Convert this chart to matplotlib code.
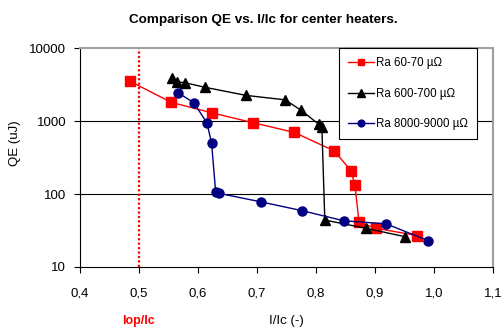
import matplotlib
matplotlib.use("Agg")
import matplotlib.pyplot as plt
from matplotlib.ticker import FixedLocator, FuncFormatter, NullLocator

plt.rcParams['font.family'] = ['Liberation Sans', 'DejaVu Sans']

red_x = [0.485, 0.555, 0.623, 0.693, 0.763, 0.831, 0.859, 0.866, 0.873, 0.901, 0.971]
red_y = [3500, 1800, 1300, 950, 700, 390, 210, 135, 41, 34, 27]

blk_x = [0.556, 0.564, 0.578, 0.612, 0.681, 0.748, 0.775, 0.805, 0.810, 0.815, 0.884, 0.951]
blk_y = [3900, 3450, 3350, 2900, 2250, 1950, 1400, 900, 840, 44, 34, 26]

blu_x = [0.566, 0.593, 0.615, 0.623, 0.630, 0.636, 0.707, 0.777, 0.847, 0.919, 0.990]
blu_y = [2450, 1780, 950, 505, 106, 102, 78, 59, 43, 39, 23]

series_labels = ["Ra 60-70 \u00b5\u03a9", "Ra 600-700 \u00b5\u03a9", "Ra 8000-9000 \u00b5\u03a9"]
x_ticks = [0.4, 0.5, 0.6, 0.7, 0.8, 0.9, 1.0, 1.1]
y_ticks = [10, 100, 1000, 10000]
iop_ic = 0.5

fig = plt.figure(figsize=(5.03, 3.27), dpi=100)
ax = fig.add_axes([0.159, 0.1835, 0.821, 0.6695])

ax.set_yscale('log')
ax.set_xlim(0.4, 1.1)
ax.set_ylim(10, 10000)

for yv in [100, 1000]:
    ax.axhline(yv, color='black', lw=0.8, zorder=1)

ax.axvline(iop_ic, color='red', lw=1.6, ls=(0, (1, 1)), zorder=2)

ax.plot(red_x, red_y, color='red', lw=1, marker='s', ms=6.5, mec='red', mfc='red', label=series_labels[0], zorder=3)
ax.plot(blk_x, blk_y, color='black', lw=1, marker='^', ms=7, mec='black', mfc='black', label=series_labels[1], zorder=4)
ax.plot(blu_x, blu_y, color='#000080', lw=1, marker='o', ms=6.5, mec='#000080', mfc='#000080', label=series_labels[2], zorder=5)

ax.xaxis.set_major_locator(FixedLocator(x_ticks))
ax.xaxis.set_minor_locator(NullLocator())
ax.yaxis.set_major_locator(FixedLocator(y_ticks))
ax.yaxis.set_minor_locator(NullLocator())
ax.xaxis.set_major_formatter(FuncFormatter(lambda v, p: f"{v:.1f}".replace('.', ',')))
ax.yaxis.set_major_formatter(FuncFormatter(lambda v, p: f"{int(round(v))}"))
ax.tick_params(axis='both', labelsize=9.5, direction='out', length=4, width=0.8)
ax.tick_params(axis='y', pad=6)
ax.tick_params(axis='x', pad=11)

for s in ['top', 'right']:
    ax.spines[s].set_color('#a0a0a0')
    ax.spines[s].set_linewidth(1.5)
for s in ['left', 'bottom']:
    ax.spines[s].set_color('black')
    ax.spines[s].set_linewidth(0.8)

ax.set_xlabel("I/Ic (-)", fontsize=9.5)
ax.xaxis.set_label_coords(0.5, -0.247)
ax.xaxis.label.set_va('center')
ax.set_ylabel("QE (uJ)", fontsize=9.5)
ax.yaxis.set_label_coords(-0.157, 0.566)
ax.yaxis.label.set_va('center')

ax.text(iop_ic, -0.247, "Iop/Ic", color='red', fontweight='bold', fontsize=9,
        ha='center', va='center', transform=ax.get_xaxis_transform())

fig.text(0.523, 0.94, "Comparison QE vs. I/Ic for center heaters.", fontsize=9.7,
         fontweight='bold', ha='center', va='center')

leg = ax.legend(loc='upper right', bbox_to_anchor=(0.961, 1.0), borderaxespad=0,
                fontsize=8.3, frameon=True, fancybox=False, edgecolor='black', framealpha=1,
                handlelength=2.3, labelspacing=1.6, borderpad=0.8, handletextpad=0.1,
                markerscale=0.75)
leg.get_frame().set_linewidth(0.8)

fig.savefig("out.png", dpi=100)
